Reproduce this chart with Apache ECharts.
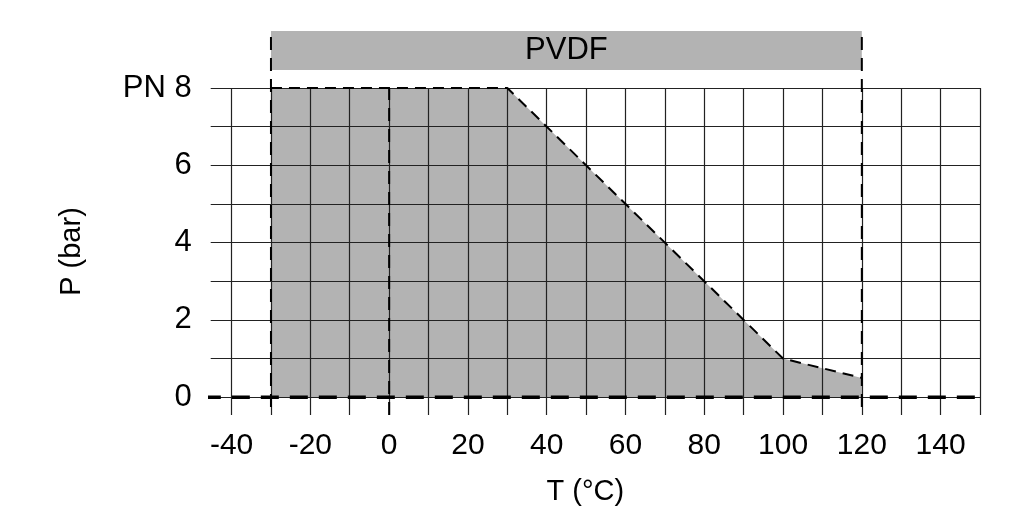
<!DOCTYPE html>
<html>
<head>
<meta charset="utf-8">
<script src="https://cdn.jsdelivr.net/npm/echarts@6/dist/echarts.min.js"></script>
<style>html,body{margin:0;padding:0;background:#fff}#c{width:1024px;height:521px}</style>
</head>
<body>
<div id="c"></div>
<script>
// Data
var xTicks = [-40,-30,-20,-10,0,10,20,30,40,50,60,70,80,90,100,110,120,130,140,150];
var xLabels = [-40,-20,0,20,40,60,80,100,120,140];
var yTicks = [0,1,2,3,4,5,6,7,8];
var yLabels = [0,2,4,6,8];
var limitCurve = [[-30,8],[30,8],[90,2],[100,1],[120,0.5]];
var rangeLines = [-30,120];
var pvdfRange = [-30,120];
var materialName = 'PVDF';
var xMin = -45.3, xMax = 150, yMin = -0.46, yMax = 8;

var FONT = 'Liberation Sans, Arial, sans-serif';
var chart = echarts.init(document.getElementById('c'), null, {renderer:'canvas'});

var dashedVertical = rangeLines.map(function(v){
  return {
    type:'line', xAxisIndex:0, yAxisIndex:0, clip:false, z:6, symbol:'none', silent:true,
    data:[[v,-0.25],[v,9.47]],
    lineStyle:{color:'#000', width:2, type:[13,8]}
  };
});

chart.setOption({
  animation:false,
  backgroundColor:'#fff',
  grid:[
    {left:210.7, right:44, top:88, bottom:106},
    {left:210.7, right:44, top:31, height:39}
  ],
  xAxis:[
    {type:'value', gridIndex:0, min:xMin, max:xMax,
     axisLine:{show:false},
     axisTick:{show:false, customValues:xTicks},
     splitLine:{show:true, lineStyle:{color:'#222', width:1.2}},
     axisLabel:{customValues:xLabels, margin:16, fontSize:30, color:'#000', fontFamily:FONT},
     name:'T (°C)', nameLocation:'middle', nameGap:62,
     nameTextStyle:{fontSize:29, color:'#000', fontFamily:FONT, padding:[0,20,0,0]}
    },
    {type:'value', gridIndex:1, min:xMin, max:xMax, show:false}
  ],
  yAxis:[
    {type:'value', gridIndex:0, min:yMin, max:yMax,
     axisLine:{show:false},
     axisTick:{show:false, customValues:yTicks},
     splitLine:{show:true, lineStyle:{color:'#222', width:1.2}},
     axisLabel:{customValues:yLabels, margin:19, fontSize:31, color:'#000', fontFamily:FONT,
       formatter:function(v){ return v===8 ? 'PN 8' : String(v); }},
     name:'P (bar)', nameLocation:'middle', nameGap:124, nameRotate:90,
     nameTextStyle:{fontSize:29, color:'#000', fontFamily:FONT}
    },
    {type:'value', gridIndex:1, min:0, max:1, show:false}
  ],
  series:[
    {type:'line', name:'area', xAxisIndex:0, yAxisIndex:0, z:-1, symbol:'none', silent:true,
     data:limitCurve.concat([[limitCurve[limitCurve.length-1][0],0]]),
     lineStyle:{width:0, opacity:0},
     areaStyle:{color:'#b3b3b3', opacity:1, origin:0}
    },
    {type:'line', name:'limit', xAxisIndex:0, yAxisIndex:0, z:5, symbol:'none', silent:true,
     data:limitCurve,
     lineStyle:{color:'#000', width:2, type:[11,7]}
    },
    {type:'line', name:'zero', xAxisIndex:0, yAxisIndex:0, z:5, symbol:'none', silent:true, clip:false,
     data:[[-47.3,0],[xMax,0]],
     lineStyle:{color:'#000', width:3.5, type:[18,11]}
    },
    {type:'line', name:'zeroT', xAxisIndex:0, yAxisIndex:0, z:5, symbol:'none', silent:true,
     data:[[0,yMin],[0,yMax]],
     lineStyle:{color:'#000', width:2, type:[13,8]}
    },
    {type:'custom', name:'pvdf', xAxisIndex:1, yAxisIndex:1, z:3, silent:true,
     data:[pvdfRange],
     renderItem:function(params, api){
       var p0 = api.coord([api.value(0), 1]);
       var p1 = api.coord([api.value(1), 0]);
       return {
         type:'rect',
         shape:{x:p0[0], y:p0[1], width:p1[0]-p0[0], height:p1[1]-p0[1]},
         style:{fill:'#b3b3b3'},
         textContent:{style:{text:materialName, fontSize:31, fill:'#000', fontFamily:FONT}},
         textConfig:{position:'inside'}
       };
     }
    }
  ].concat(dashedVertical)
});
</script>
</body>
</html>
